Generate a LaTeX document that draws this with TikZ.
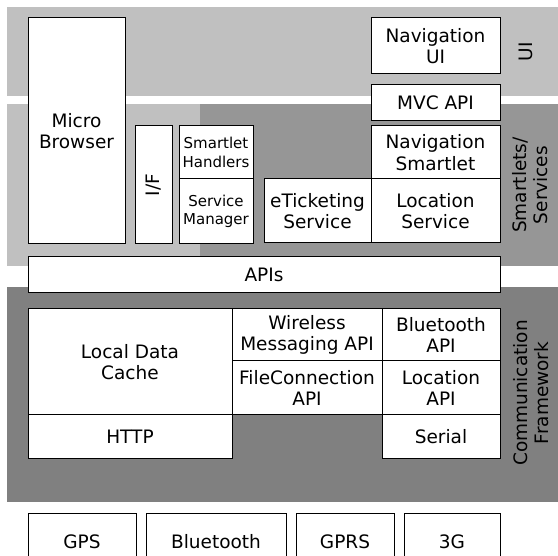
\documentclass[tikz,border=0pt]{standalone}
\usepackage{fontspec}
\setmainfont{DejaVu Sans}
\definecolor{bandlight}{HTML}{C0C0C0}
\definecolor{bandmid}{HTML}{969696}
\definecolor{banddark}{HTML}{808080}
\tikzset{
  cell/.style={draw=black, fill=white, line width=1pt, inner sep=0pt, align=center,
    font=\fontsize{18.5}{21.7}\selectfont},
  smallcell/.style={cell, font=\fontsize{15}{18.7}\selectfont},
  layerlabel/.style={rotate=90, align=center, inner sep=0pt,
    font=\fontsize{18.5}{21.7}\selectfont},
}
\begin{document}
\begin{tikzpicture}[x=1pt, y=-1pt]
  \clip (0,0) rectangle (558,556);
  \fill[white] (0,0) rectangle (558,556);

  % layer bands
  \fill[bandlight] (7,7) rectangle (558,96);
  \fill[bandlight] (7,104) rectangle (200,266);
  \fill[bandmid] (200,104) rectangle (558,266);
  \fill[banddark] (7,287) rectangle (558,502);

  % UI and smartlet/service layer
  \node[cell, minimum width=97pt, minimum height=226pt] (mb) at (76.5,131) {Micro\\Browser};
  \node[cell, minimum width=37pt, minimum height=118pt] (if) at (153.5,185) {};
  \node[rotate=90, inner sep=0pt, font=\fontsize{18.5}{21.7}\selectfont] (iflabel) at (if.center) {I/F};
  \node[smallcell, minimum width=74pt, minimum height=53pt] (sh) at (216,152.5) {Smartlet\\Handlers};
  \node[smallcell, minimum width=74pt, minimum height=65pt] (sm) at (216,211.5) {Service\\Manager};
  \node[cell, minimum width=107pt, minimum height=64pt] (et) at (317.5,211) {eTicketing\\Service};
  \node[cell, minimum width=129pt, minimum height=64pt] (ls) at (435.5,211) {Location\\Service};
  \node[cell, minimum width=129pt, minimum height=53pt] (ns) at (435.5,152.5) {Navigation\\Smartlet};
  \node[cell, minimum width=129pt, minimum height=36pt] (mvc) at (435.5,103) {MVC API};
  \node[cell, minimum width=129pt, minimum height=56pt] (nui) at (435.5,46) {Navigation\\UI};

  % APIs
  \node[cell, minimum width=472pt, minimum height=36pt] (apis) at (264,275) {APIs};

  % communication framework
  \node[cell, minimum width=204pt, minimum height=106pt] (ldc) at (130,362) {Local Data\\Cache};
  \node[cell, minimum width=204pt, minimum height=44pt] (http) at (130,437) {HTTP};
  \node[cell, minimum width=150pt, minimum height=52pt] (wm) at (307,335) {Wireless\\Messaging API};
  \node[cell, minimum width=150pt, minimum height=54pt] (fc) at (307,388) {FileConnection\\API};
  \node[cell, minimum width=118pt, minimum height=52pt] (bt) at (441,335) {Bluetooth\\API};
  \node[cell, minimum width=118pt, minimum height=54pt] (la) at (441,388) {Location\\API};
  \node[cell, minimum width=118pt, minimum height=44pt] (ser) at (441,437) {Serial};

  % layer labels
  \node[layerlabel] (uilabel) at (526,52) {UI};
  \node[layerlabel] (svclabel) at (530,185) {Smartlets/\\Services};
  \node[layerlabel] (commlabel) at (531,393) {Communication\\Framework};

  % bearers
  \node[cell, minimum width=108pt, minimum height=56pt] (gps) at (82,542) {GPS};
  \node[cell, minimum width=140pt, minimum height=56pt] (bth) at (216,542) {Bluetooth};
  \node[cell, minimum width=98pt, minimum height=56pt] (gprs) at (345,542) {GPRS};
  \node[cell, minimum width=96pt, minimum height=56pt] (g3) at (452,542) {3G};
\end{tikzpicture}
\end{document}
